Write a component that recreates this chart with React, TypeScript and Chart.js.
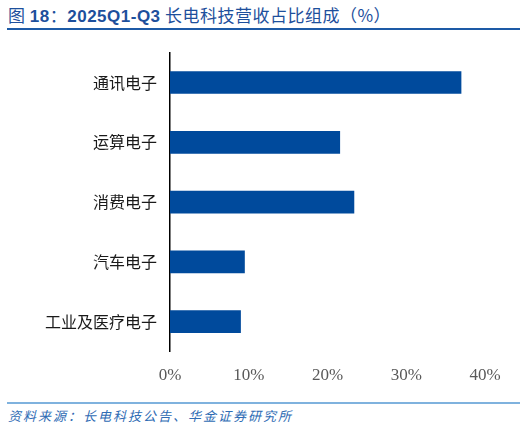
import { useEffect, useRef } from 'react'
import { Chart, registerables, type ChartConfiguration } from 'chart.js'

Chart.register(...registerables)

const categories = ['通讯电子', '运算电子', '消费电子', '汽车电子', '工业及医疗电子']
const shares = [37.0, 21.6, 23.4, 9.5, 9.0]
const tickValues = [0, 10, 20, 30, 40]

const BLUE = '#004a9c'

export default function App() {
  const canvasRef = useRef<HTMLCanvasElement | null>(null)
  const chartRef = useRef<Chart<'bar'> | null>(null)

  useEffect(() => {
    document.body.style.margin = '0'
    const canvas = canvasRef.current
    if (!canvas) {
      return
    }

    chartRef.current?.destroy()

    const config: ChartConfiguration<'bar'> = {
      type: 'bar',
      data: {
        labels: categories,
        datasets: [
          {
            label: '营收占比',
            data: shares,
            backgroundColor: BLUE,
            borderWidth: 0,
            categoryPercentage: 1,
            barPercentage: 0.38,
          },
        ],
      },
      options: {
        indexAxis: 'y',
        animation: false,
        responsive: false,
        maintainAspectRatio: false,
        layout: { padding: { left: 0, right: 42, top: 0, bottom: 0 } },
        plugins: {
          legend: { display: false },
          tooltip: { enabled: false },
        },
        scales: {
          x: {
            min: 0,
            max: 40,
            afterBuildTicks: (scale) => {
              scale.ticks = tickValues.map((value) => ({ value }))
            },
            grid: { display: false, drawTicks: false },
            border: { display: false },
            ticks: {
              padding: 14,
              color: '#595959',
              font: { family: '"Liberation Serif", serif', size: 17 },
              callback: (value) => `${value}%`,
            },
          },
          y: {
            afterFit: (scale) => {
              scale.width = 170
            },
            grid: { display: false, drawTicks: false },
            border: { display: true, color: '#000000', width: 1.5 },
            ticks: {
              padding: 13,
              color: '#1a1a1a',
              font: { family: '"Noto Sans CJK SC", sans-serif', size: 16 },
            },
          },
        },
      },
    }

    chartRef.current = new Chart(canvas, config)

    return () => {
      chartRef.current?.destroy()
      chartRef.current = null
    }
  }, [])

  return (
    <div
      style={{
        position: 'relative',
        width: 527,
        height: 431,
        background: '#ffffff',
        overflow: 'hidden',
      }}
    >
      <div
        style={{
          position: 'absolute',
          left: 8,
          top: 4,
          fontFamily: '"Noto Sans CJK SC", sans-serif',
          fontSize: 17,
          letterSpacing: 0.5,
          lineHeight: '22px',
          color: '#1d4f9c',
          whiteSpace: 'nowrap',
        }}
      >
        图 <span style={{ fontFamily: '"Liberation Sans", sans-serif', fontWeight: 700 }}>18</span>：
        <span style={{ fontFamily: '"Liberation Sans", sans-serif', fontWeight: 700 }}>2025Q1-Q3</span> 长电科技营收占比组成（%）
      </div>
      <div
        style={{
          position: 'absolute',
          left: 7,
          top: 28,
          width: 513,
          height: 2,
          background: '#1d5aa6',
        }}
      />
      <canvas
        ref={canvasRef}
        width={527}
        height={370}
        style={{ position: 'absolute', left: 0, top: 30, width: 527, height: 370 }}
        role="img"
        aria-label="长电科技营收占比组成"
      />
      <div
        style={{
          position: 'absolute',
          left: 7,
          top: 402,
          width: 513,
          height: 2,
          background: '#7fb2de',
        }}
      />
      <div
        style={{
          position: 'absolute',
          left: 8,
          top: 407,
          fontFamily: '"Noto Sans CJK SC", sans-serif',
          fontSize: 13,
          fontStyle: 'italic',
          letterSpacing: 2,
          lineHeight: '18px',
          color: '#2f6cb4',
          whiteSpace: 'nowrap',
        }}
      >
        资料来源：长电科技公告、华金证券研究所
      </div>
    </div>
  )
}
